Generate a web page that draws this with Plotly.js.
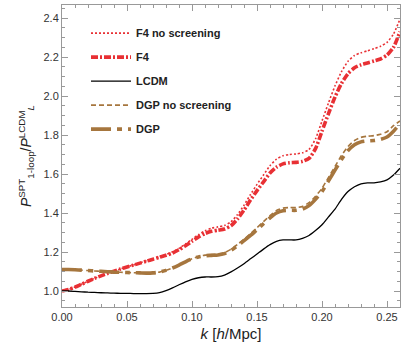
<!DOCTYPE html>
<html>
<head>
<meta charset="utf-8">
<script src="https://cdn.plot.ly/plotly-3.0.1.min.js"></script>
<style>
  html, body { margin: 0; padding: 0; background: #fff; }
  #chart { width: 415px; height: 346px; }
</style>
</head>
<body>
<div id="chart"></div>
<script>
// wavenumber grid k [h/Mpc]
var k = [0, 0.005, 0.01, 0.015, 0.02, 0.025, 0.03, 0.035, 0.04, 0.045,
  0.05, 0.055, 0.06, 0.065, 0.07, 0.075, 0.08, 0.085, 0.09, 0.095,
  0.1, 0.105, 0.11, 0.115, 0.12, 0.125, 0.13, 0.135, 0.14, 0.145,
  0.15, 0.155, 0.16, 0.165, 0.17, 0.175, 0.18, 0.185, 0.19, 0.195,
  0.2, 0.205, 0.21, 0.215, 0.22, 0.225, 0.23, 0.235, 0.24, 0.245,
  0.25, 0.255, 0.26];

var f4NoScreening = [1.000, 1.008, 1.020, 1.035, 1.050, 1.065, 1.078, 1.090, 1.102, 1.113,
  1.124, 1.134, 1.145, 1.155, 1.166, 1.177, 1.188, 1.201, 1.219, 1.241,
  1.265, 1.289, 1.309, 1.322, 1.329, 1.336, 1.355, 1.392, 1.440, 1.495,
  1.547, 1.595, 1.643, 1.676, 1.694, 1.700, 1.703, 1.709, 1.726, 1.780,
  1.872, 1.965, 2.052, 2.125, 2.178, 2.208, 2.222, 2.232, 2.243, 2.255,
  2.275, 2.318, 2.395];

var f4 = [1.000, 1.008, 1.020, 1.035, 1.050, 1.065, 1.078, 1.090, 1.102, 1.113,
  1.123, 1.133, 1.143, 1.153, 1.163, 1.173, 1.183, 1.195, 1.212, 1.232,
  1.255, 1.277, 1.295, 1.306, 1.312, 1.318, 1.335, 1.370, 1.415, 1.467,
  1.515, 1.560, 1.605, 1.635, 1.652, 1.658, 1.660, 1.665, 1.680, 1.730,
  1.820, 1.910, 1.995, 2.065, 2.115, 2.145, 2.160, 2.170, 2.180, 2.190,
  2.210, 2.250, 2.330];

var lcdm = [1.000, 1.000, 0.998, 0.996, 0.994, 0.993, 0.991, 0.990, 0.989, 0.988,
  0.988, 0.987, 0.987, 0.987, 0.988, 0.992, 1.002, 1.016, 1.032, 1.047,
  1.060, 1.068, 1.072, 1.072, 1.074, 1.082, 1.098, 1.118, 1.140, 1.165,
  1.190, 1.215, 1.238, 1.255, 1.262, 1.262, 1.262, 1.270, 1.285, 1.310,
  1.340, 1.380, 1.420, 1.470, 1.510, 1.535, 1.550, 1.555, 1.555, 1.560,
  1.570, 1.595, 1.630];

var dgpNoScreening = [1.110, 1.110, 1.109, 1.107, 1.105, 1.103, 1.101, 1.099, 1.097, 1.096,
  1.095, 1.094, 1.093, 1.092, 1.093, 1.097, 1.106, 1.118, 1.133, 1.150,
  1.166, 1.177, 1.184, 1.187, 1.190, 1.197, 1.214, 1.239, 1.266, 1.294,
  1.325, 1.356, 1.387, 1.413, 1.425, 1.428, 1.428, 1.434, 1.453, 1.486,
  1.527, 1.583, 1.639, 1.695, 1.741, 1.772, 1.788, 1.794, 1.797, 1.804,
  1.817, 1.848, 1.872];

var dgp = [1.110, 1.110, 1.109, 1.107, 1.105, 1.103, 1.101, 1.099, 1.097, 1.096,
  1.095, 1.094, 1.093, 1.092, 1.093, 1.097, 1.106, 1.118, 1.133, 1.150,
  1.165, 1.175, 1.181, 1.183, 1.185, 1.192, 1.208, 1.232, 1.258, 1.285,
  1.315, 1.345, 1.375, 1.400, 1.412, 1.414, 1.414, 1.420, 1.438, 1.470,
  1.510, 1.565, 1.620, 1.675, 1.720, 1.750, 1.765, 1.770, 1.772, 1.778,
  1.790, 1.820, 1.858];

var names = ['F4 no screening', 'F4', 'LCDM', 'DGP no screening', 'DGP'];

var red = 'rgb(232,48,52)';
var brown = 'rgb(166,118,62)';

function trace(y, i, color, width, dash) {
  return {
    x: k, y: y, name: names[i], legendgroup: 'g' + i,
    mode: 'lines', type: 'scatter',
    line: {color: color, width: width, dash: dash, shape: 'spline', smoothing: 0.6}
  };
}

var data = [
  trace(f4NoScreening, 0, red, 1.6, '2px,2px'),
  trace(f4, 1, red, 3.6, '7px,2px,2px,2px'),
  trace(lcdm, 2, 'black', 1.3, 'solid'),
  trace(dgpNoScreening, 3, brown, 1.6, '5px,3px'),
  trace(dgp, 4, brown, 3.6, '20px,6px,5px,6px')
];

var axisStyle = {
  showgrid: false, zeroline: false,
  showline: true, linecolor: '#999', linewidth: 1, mirror: 'ticks',
  ticks: 'inside', ticklen: 6, tickcolor: '#999', tickwidth: 1,
  tickfont: {family: 'Liberation Sans, Arial, sans-serif', size: 11, color: '#333'}
};

var layout = {
  width: 415, height: 346,
  margin: {l: 62, r: 15, t: 5, b: 39},
  paper_bgcolor: 'white', plot_bgcolor: 'white',
  font: {family: 'Liberation Sans, Arial, sans-serif', color: '#222'},
  xaxis: Object.assign({}, axisStyle, {
    range: [0, 0.26], dtick: 0.05, tickformat: '.2f',
    minor: {dtick: 0.01, ticks: 'inside', ticklen: 3, tickcolor: '#999'},
    title: {text: '<i>k</i> [<i>h</i>/Mpc]', font: {size: 15, color: '#222'}, standoff: 6}
  }),
  yaxis: Object.assign({}, axisStyle, {
    range: [0.918, 2.467], dtick: 0.2, tickformat: '.1f',
    minor: {dtick: 0.05, ticks: 'inside', ticklen: 3, tickcolor: '#999'},
    title: {
      text: '<i>P</i><sup>SPT</sup><sub>1-loop</sub>/<i>P</i><sup>LCDM</sup><sub><i>L</i></sub>',
      font: {size: 14, color: '#222'}, standoff: 8
    }
  }),
  showlegend: true,
  legend: {
    x: 0.071, y: 0.955, xanchor: 'left', yanchor: 'top',
    bgcolor: 'rgba(0,0,0,0)', traceorder: 'grouped', tracegroupgap: 5,
    itemwidth: 40,
    font: {size: 11, color: '#222', weight: 'bold'}
  }
};

Plotly.newPlot('chart', data, layout, {displayModeBar: false, staticPlot: true});
</script>
</body>
</html>
